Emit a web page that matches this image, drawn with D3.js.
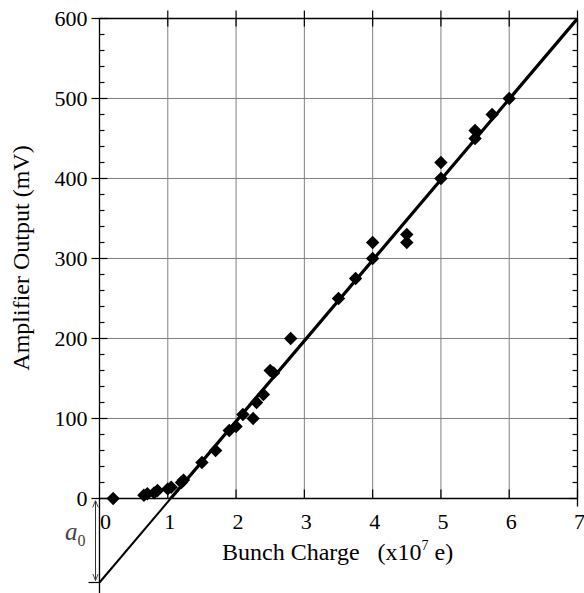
<!DOCTYPE html>
<html>
<head>
<meta charset="utf-8">
<script src="https://cdn.jsdelivr.net/npm/d3@7.9.0/dist/d3.min.js"></script>
<style>
  html, body { margin: 0; padding: 0; background: #fff; }
  svg text { font-family: "Liberation Serif", "Times New Roman", Times, "DejaVu Serif", serif; }
</style>
</head>
<body>
<svg id="chart" width="584" height="593"></svg>
<script>
// measured points (bunch charge in 1e7 e, amplifier output in mV)
const charge = [0.2, 0.65, 0.7, 0.8, 0.85, 1.0, 1.05, 1.2, 1.23, 1.5, 1.7, 1.9, 2.0, 2.1, 2.25, 2.3, 2.4, 2.5, 2.55, 2.8,
  3.5, 3.75, 4.0, 4.0, 4.5, 4.5, 5.0, 5.0, 5.5, 5.5, 5.75, 6.0];
const output = [0, 4, 6, 7, 10, 12, 14, 20, 23, 45, 60, 85, 90, 105, 100, 120, 130, 160, 157, 200,
  250, 275, 300, 320, 330, 320, 400, 420, 450, 460, 480, 500];

// linear fit, crossing the y axis at -a0
const fitX = [0, 7];
const fitY = [-105, 600];

const xTicks = [0, 1, 2, 3, 4, 5, 6, 7];
const yTicks = [0, 100, 200, 300, 400, 500, 600];
const yMinor = d3.range(0, 601, 20);

const serif = '"Liberation Serif", "Times New Roman", Times, "DejaVu Serif", serif';
const svg = d3.select('#chart').attr('font-family', serif);
const x = d3.scaleLinear().domain([0, 7]).range([99.5, 577.5]);
const y = d3.scaleLinear().domain([0, 600]).range([498.5, 18.5]);

// grid
svg.append('g')
  .selectAll('line')
  .data(xTicks.slice(1, -1))
  .join('line')
  .attr('x1', d => x(d)).attr('x2', d => x(d))
  .attr('y1', y(600)).attr('y2', y(0))
  .attr('stroke', '#808080').attr('stroke-width', 1);
svg.append('g')
  .selectAll('line')
  .data(yTicks.slice(1, -1))
  .join('line')
  .attr('x1', x(0)).attr('x2', x(7))
  .attr('y1', d => y(d)).attr('y2', d => y(d))
  .attr('stroke', '#808080').attr('stroke-width', 1);

// frame
const frame = svg.append('g').attr('stroke', '#000').attr('stroke-width', 1.3);
frame.append('line').attr('x1', x(0)).attr('x2', x(7)).attr('y1', y(600)).attr('y2', y(600));
frame.append('line').attr('x1', x(0)).attr('x2', x(7)).attr('y1', y(0)).attr('y2', y(0));
frame.append('line').attr('x1', x(0)).attr('x2', x(0)).attr('y1', y(600)).attr('y2', 593);
frame.append('line').attr('x1', x(7)).attr('x2', x(7)).attr('y1', y(600)).attr('y2', y(0) + 8);

// ticks: left and right, minor every 20
const tickG = svg.append('g').attr('stroke', '#000').attr('stroke-width', 1.2);
yMinor.forEach(v => {
  const major = v % 100 === 0;
  tickG.append('line').attr('x1', major ? x(0) - 8 : x(0)).attr('x2', x(0) + (major ? 8 : 5))
    .attr('y1', y(v)).attr('y2', y(v));
  tickG.append('line').attr('x1', x(7) - (major ? 8 : 5)).attr('x2', x(7))
    .attr('y1', y(v)).attr('y2', y(v));
});
xTicks.slice(1).forEach(v => {
  tickG.append('line').attr('x1', x(v)).attr('x2', x(v)).attr('y1', y(600) - 8).attr('y2', y(600) + 8);
  tickG.append('line').attr('x1', x(v)).attr('x2', x(v)).attr('y1', y(0) - 9).attr('y2', y(0));
});
// tick at the intercept
tickG.append('line').attr('x1', x(0) - 11).attr('x2', x(0))
  .attr('y1', y(fitY[0])).attr('y2', y(fitY[0]));

// tick labels
svg.append('g')
  .selectAll('text')
  .data(yTicks)
  .join('text')
  .attr('x', x(0) - 12)
  .attr('y', d => y(d))
  .attr('dy', '0.35em')
  .attr('text-anchor', 'end')
  .attr('font-size', 22)
  .text(d => d);
svg.append('g')
  .selectAll('text')
  .data(xTicks)
  .join('text')
  .attr('x', d => x(d) + (d === 0 ? 6 : 2))
  .attr('y', 529)
  .attr('text-anchor', 'middle')
  .attr('font-size', 22)
  .text(d => d);

// fit line: thin full extent, thicker inside plot
const line = d3.line().x(d => x(d[0])).y(d => y(d[1]));
const fitPts = d3.zip(fitX, fitY);
svg.append('path').attr('d', line(fitPts)).attr('fill', 'none')
  .attr('stroke', '#000').attr('stroke-width', 2);
svg.append('clipPath').attr('id', 'plotclip')
  .append('rect').attr('x', x(0)).attr('y', y(600)).attr('width', x(7) - x(0)).attr('height', y(0) - y(600));
svg.append('path').attr('d', line(fitPts)).attr('fill', 'none')
  .attr('clip-path', 'url(#plotclip)')
  .attr('stroke', '#000').attr('stroke-width', 3.2);

// diamonds
const diamond = d3.symbol().type(d3.symbolSquare).size(90);
svg.append('g')
  .selectAll('path')
  .data(d3.zip(charge, output))
  .join('path')
  .attr('transform', d => `translate(${x(d[0])},${y(d[1])}) rotate(45)`)
  .attr('d', diamond)
  .attr('fill', '#000');

// a0 double arrow
const defs = svg.append('defs');
defs.append('marker').attr('id', 'head')
  .attr('viewBox', '0 0 10 10').attr('refX', 10).attr('refY', 5)
  .attr('markerWidth', 7).attr('markerHeight', 7).attr('orient', 'auto-start-reverse')
  .append('path').attr('d', 'M0,1 L10,5 L0,9').attr('fill', 'none').attr('stroke', '#333').attr('stroke-width', 1.3);
svg.append('line')
  .attr('x1', 95.5).attr('x2', 95.5)
  .attr('y1', y(0) + 2).attr('y2', y(fitY[0]) - 2)
  .attr('stroke', '#333').attr('stroke-width', 1)
  .attr('marker-start', 'url(#head)').attr('marker-end', 'url(#head)');
const a0 = svg.append('text').attr('x', 65).attr('y', 540).attr('fill', '#444').attr('font-size', 25);
a0.append('tspan').attr('font-style', 'italic').text('a');
a0.append('tspan').attr('font-size', 16).attr('dy', 6).text('0');

// axis titles
const xt = svg.append('text').attr('x', 222).attr('y', 560).attr('font-size', 24)
  .attr('xml:space', 'preserve');
xt.append('tspan').text('Bunch Charge   (x10');
xt.append('tspan').attr('font-size', 14).attr('dy', -10).text('7');
xt.append('tspan').attr('dy', 10).text(' e)');

svg.append('text')
  .attr('transform', `translate(29,${258}) rotate(-90)`)
  .attr('text-anchor', 'middle')
  .attr('font-size', 24)
  .text('Amplifier Output (mV)');
</script>
</body>
</html>
